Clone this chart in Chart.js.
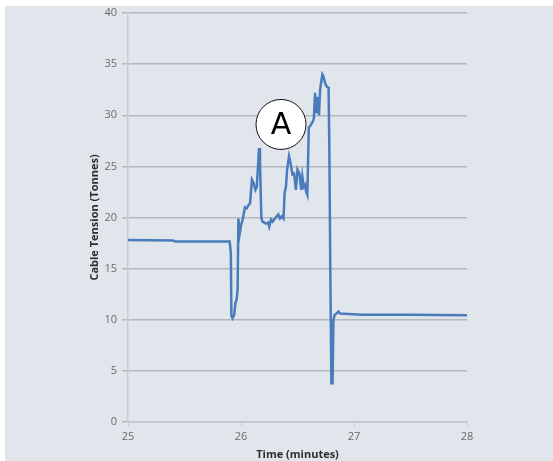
<!DOCTYPE html>
<html>
<head>
<meta charset="utf-8">
<script src="https://cdn.jsdelivr.net/npm/chart.js@4/dist/chart.umd.min.js"></script>
<style>
  html, body { margin: 0; padding: 0; background: #fff; }
  #wrap { position: relative; width: 553px; height: 461px; }
  canvas { position: absolute; left: 0; top: 0; }
</style>
</head>
<body>
<div id="wrap"><canvas id="chart" width="553" height="461"></canvas></div>
<script>
// time in minutes, cable tension in tonnes
const timeMin = [
  25.00, 25.40, 25.42, 25.90, 25.91, 25.915, 25.925, 25.94, 25.95, 25.96,
  25.97, 25.977, 25.99, 26.00, 26.015, 26.035, 26.05, 26.066, 26.08, 26.097,
  26.11, 26.128, 26.14, 26.16, 26.168, 26.18, 26.19, 26.22, 26.24, 26.25,
  26.266, 26.28, 26.30, 26.33, 26.345, 26.36, 26.376, 26.386, 26.398, 26.408,
  26.425, 26.439, 26.455, 26.47, 26.486, 26.50, 26.517, 26.533, 26.543, 26.555,
  26.567, 26.577, 26.587, 26.60, 26.615, 26.636, 26.645, 26.655, 26.668, 26.68,
  26.69, 26.70, 26.72, 26.73, 26.745, 26.76, 26.775, 26.782, 26.79, 26.80,
  26.81, 26.818, 26.83, 26.845, 26.862, 26.877, 26.99, 27.08, 27.50, 28.00
];
const tension = [
  17.80, 17.75, 17.65, 17.65, 16.5, 10.4, 10.15, 10.5, 11.6, 11.9,
  12.9, 19.9, 18.5, 19.2, 19.8, 21.0, 20.9, 21.2, 21.4, 23.7,
  23.4, 22.7, 23.0, 26.8, 25.4, 20.0, 19.6, 19.4, 19.5, 19.1,
  19.8, 19.6, 19.9, 20.3, 19.9, 20.1, 19.9, 22.4, 23.0, 24.7,
  26.0, 25.3, 24.2, 24.3, 22.7, 24.7, 24.3, 22.7, 24.0, 23.0,
  23.2, 22.5, 22.2, 28.8, 29.0, 29.4, 29.7, 32.2, 30.2, 31.8,
  30.0, 32.5, 34.0, 33.8, 33.1, 32.8, 32.7, 26.6, 15.2, 3.8,
  3.8, 10.0, 10.5, 10.6, 10.8, 10.6, 10.55, 10.5, 10.48, 10.45
];
const xTicks = [25, 26, 27, 28];
const yTicks = [0, 5, 10, 15, 20, 25, 30, 35, 40];
const xTitle = 'Time (minutes)';
const yTitle = 'Cable Tension (Tonnes)';
// callout marker, in data units
const calloutLabel = 'A';
const calloutAt = { x: 26.354, y: 29.1 };

const points = timeMin.map((t, i) => ({ x: t, y: tension[i] }));

const backdrop = {
  id: 'backdrop',
  beforeDraw(chart) {
    const c = chart.ctx;
    c.save();
    c.fillStyle = '#fff';
    c.fillRect(0, 0, chart.width, chart.height);
    c.fillStyle = '#e1e5ec';
    c.fillRect(5, 6, chart.width - 5, chart.height - 6);
    c.restore();
  }
};

const callout = {
  id: 'callout',
  afterDatasetsDraw(chart) {
    const c = chart.ctx;
    const px = chart.scales.x.getPixelForValue(calloutAt.x);
    const py = chart.scales.y.getPixelForValue(calloutAt.y);
    c.save();
    c.beginPath();
    c.arc(px, py, 25, 0, Math.PI * 2);
    c.fillStyle = '#fff';
    c.fill();
    c.lineWidth = 1;
    c.strokeStyle = '#111';
    c.stroke();
    c.fillStyle = '#000';
    c.font = '30px "DejaVu Sans"';
    c.textAlign = 'center';
    c.textBaseline = 'middle';
    c.fillText(calloutLabel, px, py + 2);
    c.restore();
  }
};

new Chart(document.getElementById('chart'), {
  type: 'line',
  data: {
    datasets: [{
      data: points,
      borderColor: '#4a7bbb',
      borderWidth: 2.5,
      pointRadius: 0,
      tension: 0,
      fill: false
    }]
  },
  options: {
    responsive: false,
    animation: false,
    layout: { padding: { top: 13, right: 86, left: 0, bottom: 0 } },
    plugins: { legend: { display: false }, tooltip: { enabled: false } },
    scales: {
      x: {
        type: 'linear', min: 25, max: 28,
        afterBuildTicks: s => { s.ticks = xTicks.map(v => ({ value: v })); },
        afterFit: s => { s.height = 39; },
        grid: { drawOnChartArea: false, drawTicks: true, tickLength: 4, color: '#c3c6cb' },
        border: { color: '#c3c6cb', width: 1.5 },
        ticks: { color: '#6a6a6a', font: { family: 'Open Sans', size: 11 }, padding: 4, maxRotation: 0 },
        title: { display: true, text: xTitle, color: '#2e2e2e', font: { family: 'Open Sans', size: 11, weight: 'bold' }, padding: { top: 0, bottom: 0 } }
      },
      y: {
        min: 0, max: 40,
        afterBuildTicks: s => { s.ticks = yTicks.map(v => ({ value: v })); },
        afterFit: s => { s.width = 128; },
        grid: { color: '#b4b7bc', lineWidth: 1.5, tickLength: 6 },
        border: { color: '#c8cbd0', width: 1.5 },
        ticks: { color: '#6a6a6a', font: { family: 'Open Sans', size: 11 }, padding: 5 },
        title: { display: true, text: yTitle, color: '#2e2e2e', font: { family: 'Open Sans', size: 11, weight: 'bold' }, padding: { top: 88, bottom: 0 } }
      }
    }
  },
  plugins: [backdrop, callout]
});
</script>
</body>
</html>
